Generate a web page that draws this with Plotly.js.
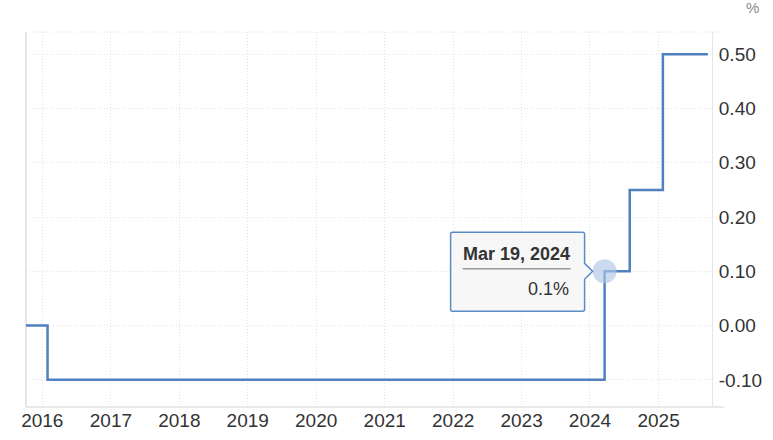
<!DOCTYPE html>
<html>
<head>
<meta charset="utf-8">
<script src="https://cdn.plot.ly/plotly-3.0.1.min.js"></script>
<style>
  html, body { margin: 0; padding: 0; background: #ffffff; }
  #chart { width: 773px; height: 440px; }
</style>
</head>
<body>
<div id="chart"></div>
<script>
// Policy rate steps (date the new level took effect, level in %)
const rateDates = ['2015-10-06', '2016-01-29', '2024-03-19', '2024-07-31', '2025-01-24', '2025-09-21'];
const rateValues = [0, -0.1, 0.1, 0.25, 0.5, 0.5];

// Axis ticks
const yearTicks = ['2016-01-01', '2017-01-01', '2018-01-01', '2019-01-01', '2020-01-01',
                   '2021-01-01', '2022-01-01', '2023-01-01', '2024-01-01', '2025-01-01'];
const yearLabels = ['2016', '2017', '2018', '2019', '2020', '2021', '2022', '2023', '2024', '2025'];
const rateTicks = [-0.1, 0, 0.1, 0.2, 0.3, 0.4, 0.5];
const rateLabels = ['-0.10', '0.00', '0.10', '0.20', '0.30', '0.40', '0.50'];

// Highlighted point shown with a callout
const focusIndex = 2;
const focusDate = rateDates[focusIndex];
const focusValue = rateValues[focusIndex];

const monthNames = ['Jan', 'Feb', 'Mar', 'Apr', 'May', 'Jun', 'Jul', 'Aug', 'Sep', 'Oct', 'Nov', 'Dec'];
function formatDate(s) {
  const [y, m, d] = s.split('-').map(Number);
  return monthNames[m - 1] + ' ' + d + ', ' + y;
}

const gridColor = '#e2e2e2';
const lineColor = '#4f80c0';
const textColor = '#333333';
const font = 'Liberation Sans, Arial, Helvetica, sans-serif';
const tickSize = 19;

const traces = [
  {
    type: 'scatter',
    mode: 'lines',
    x: rateDates,
    y: rateValues,
    line: { shape: 'hv', color: lineColor, width: 2.5 },
    hoverinfo: 'skip'
  },
  {
    type: 'scatter',
    mode: 'markers',
    x: [focusDate],
    y: [focusValue],
    marker: { size: 24, color: 'rgba(176,198,232,0.65)', line: { width: 0 } },
    hoverinfo: 'skip'
  }
];

const layout = {
  width: 773,
  height: 440,
  margin: { l: 26, r: 61, t: 32, b: 33 },
  paper_bgcolor: '#ffffff',
  plot_bgcolor: '#ffffff',
  showlegend: false,
  font: { family: font, color: textColor, size: 18 },
  xaxis: {
    type: 'date',
    range: ['2015-10-06', '2025-10-13'],
    tickmode: 'array',
    tickvals: yearTicks,
    ticktext: yearLabels,
    ticks: '',
    showgrid: true,
    gridcolor: gridColor,
    griddash: '1px,2px',
    gridwidth: 1,
    zeroline: false,
    showline: false,
    tickfont: { size: tickSize, color: textColor, family: font },
    ticklabelstandoff: 0,
    fixedrange: true
  },
  yaxis: {
    side: 'right',
    range: [-0.15, 0.541],
    tickmode: 'array',
    tickvals: rateTicks,
    ticktext: rateLabels,
    ticks: '',
    showgrid: true,
    gridcolor: gridColor,
    griddash: '1px,2px',
    gridwidth: 1,
    zeroline: false,
    showline: true,
    linecolor: '#e6e6e6',
    linewidth: 1,
    tickfont: { size: tickSize, color: textColor, family: font },
    ticklabelstandoff: 2,
    fixedrange: true
  },
  shapes: [
    // top dotted border
    { type: 'line', xref: 'paper', yref: 'paper', x0: 0, x1: 1.017, y0: 1, y1: 1,
      line: { color: gridColor, width: 1, dash: '1px,2px' }, layer: 'below' },
    // left solid border
    { type: 'line', xref: 'paper', yref: 'paper', x0: 0, x1: 0, y0: 0, y1: 1,
      line: { color: '#e6e6e6', width: 2 }, layer: 'below' },
    // bottom axis line
    { type: 'line', xref: 'paper', yref: 'paper', x0: 0, x1: 1.017, y0: 0, y1: 0,
      line: { color: '#e2e2e2', width: 1.5 }, layer: 'below' },
    // callout box with pointer
    { type: 'path', xref: 'x', yref: 'y', xsizemode: 'pixel', ysizemode: 'pixel',
      xanchor: focusDate, yanchor: focusValue,
      path: 'M -152,39 L -22,39 Q -20,39 -20,37 L -20,8 L -12,0 L -20,-8 L -20,-38 Q -20,-40 -22,-40 ' +
            'L -152,-40 Q -154,-40 -154,-38 L -154,37 Q -154,39 -152,39 Z',
      fillcolor: '#f7f7f7', line: { color: '#5a8bcb', width: 1.5 }, layer: 'above' },
    // separator under the callout date
    { type: 'line', xref: 'x', yref: 'y', xsizemode: 'pixel', ysizemode: 'pixel',
      xanchor: focusDate, yanchor: focusValue, x0: -142, x1: -34, y0: 2.5, y1: 2.5,
      line: { color: '#9a9a9a', width: 1.5 }, layer: 'above' }
  ],
  annotations: [
    { xref: 'x', yref: 'y', x: focusDate, y: focusValue, xshift: -88, yshift: 17,
      text: '<b>' + formatDate(focusDate) + '</b>', showarrow: false,
      xanchor: 'center', yanchor: 'middle',
      font: { family: font, size: 18, color: textColor } },
    { xref: 'x', yref: 'y', x: focusDate, y: focusValue, xshift: -34, yshift: -18,
      text: focusValue + '%', showarrow: false,
      xanchor: 'right', yanchor: 'middle',
      font: { family: font, size: 18, color: textColor } },
    { xref: 'paper', yref: 'paper', x: 1.059, y: 1.064,
      text: '%', showarrow: false, xanchor: 'center', yanchor: 'middle',
      font: { family: font, size: 15, color: '#8a8a8a' } }
  ]
};

Plotly.newPlot('chart', traces, layout, { staticPlot: true, displayModeBar: false });
</script>
</body>
</html>
